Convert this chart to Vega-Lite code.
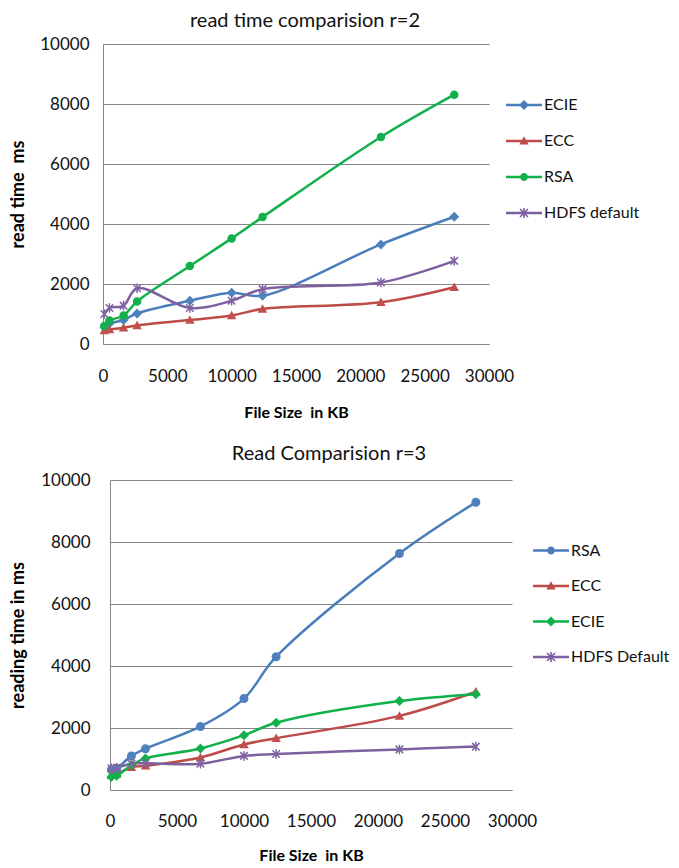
{
  "$schema": "https://vega.github.io/schema/vega-lite/v6.json",
  "background": "white",
  "padding": {"left": 8, "top": 11, "right": 0, "bottom": 0},
  "spacing": 24,
  "config": {
    "font": "Lato",
    "view": {"stroke": null},
    "axis": {
      "labelFont": "Lato", "labelFontSize": 17, "labelColor": "#111",
      "titleFont": "Lato", "titleFontWeight": "bold", "titleFontSize": 16, "titleColor": "#000",
      "domainColor": "#868686", "gridColor": "#868686", "gridWidth": 1, "ticks": false,
      "labelFlush": false, "labelOverlap": false, "format": "d"
    },
    "axisY": {"titleFontSize": 18},
    "legend": {
      "labelFont": "Lato", "labelFontSize": 16, "labelColor": "#111",
      "padding": 0, "rowPadding": 10, "labelOffset": 2, "title": null
    },
    "title": {"font": "Lato", "fontSize": 20, "fontWeight": "normal", "color": "#111"}
  },
  "datasets": {
    "empty": [],
    "r2": [
      {"series": "ECIE", "size": 100, "time": 560}, {"series": "ECIE", "size": 500, "time": 680},
      {"series": "ECIE", "size": 1600, "time": 800}, {"series": "ECIE", "size": 2650, "time": 1020},
      {"series": "ECIE", "size": 6750, "time": 1440}, {"series": "ECIE", "size": 10000, "time": 1710},
      {"series": "ECIE", "size": 12400, "time": 1610}, {"series": "ECIE", "size": 21600, "time": 3320},
      {"series": "ECIE", "size": 27300, "time": 4240},
      {"series": "ECC", "size": 100, "time": 450}, {"series": "ECC", "size": 500, "time": 480},
      {"series": "ECC", "size": 1600, "time": 540}, {"series": "ECC", "size": 2650, "time": 620},
      {"series": "ECC", "size": 6750, "time": 800}, {"series": "ECC", "size": 10000, "time": 950},
      {"series": "ECC", "size": 12400, "time": 1170}, {"series": "ECC", "size": 21600, "time": 1390},
      {"series": "ECC", "size": 27300, "time": 1890},
      {"series": "RSA", "size": 100, "time": 600}, {"series": "RSA", "size": 500, "time": 780},
      {"series": "RSA", "size": 1600, "time": 950}, {"series": "RSA", "size": 2650, "time": 1420},
      {"series": "RSA", "size": 6750, "time": 2600}, {"series": "RSA", "size": 10000, "time": 3520},
      {"series": "RSA", "size": 12400, "time": 4230}, {"series": "RSA", "size": 21600, "time": 6900},
      {"series": "RSA", "size": 27300, "time": 8310},
      {"series": "HDFS default", "size": 100, "time": 1000}, {"series": "HDFS default", "size": 500, "time": 1200},
      {"series": "HDFS default", "size": 1600, "time": 1280}, {"series": "HDFS default", "size": 2650, "time": 1860},
      {"series": "HDFS default", "size": 6750, "time": 1200}, {"series": "HDFS default", "size": 10000, "time": 1440},
      {"series": "HDFS default", "size": 12400, "time": 1830}, {"series": "HDFS default", "size": 21600, "time": 2050},
      {"series": "HDFS default", "size": 27300, "time": 2770}
    ],
    "r3": [
      {"series": "RSA", "size": 100, "time": 650}, {"series": "RSA", "size": 500, "time": 700},
      {"series": "RSA", "size": 1600, "time": 1100}, {"series": "RSA", "size": 2650, "time": 1330},
      {"series": "RSA", "size": 6750, "time": 2050}, {"series": "RSA", "size": 10000, "time": 2950},
      {"series": "RSA", "size": 12400, "time": 4300}, {"series": "RSA", "size": 21600, "time": 7630},
      {"series": "RSA", "size": 27300, "time": 9280},
      {"series": "ECC", "size": 100, "time": 480}, {"series": "ECC", "size": 500, "time": 520},
      {"series": "ECC", "size": 1600, "time": 730}, {"series": "ECC", "size": 2650, "time": 780},
      {"series": "ECC", "size": 6750, "time": 1050}, {"series": "ECC", "size": 10000, "time": 1470},
      {"series": "ECC", "size": 12400, "time": 1670}, {"series": "ECC", "size": 21600, "time": 2390},
      {"series": "ECC", "size": 27300, "time": 3170},
      {"series": "ECIE", "size": 100, "time": 420}, {"series": "ECIE", "size": 500, "time": 460},
      {"series": "ECIE", "size": 1600, "time": 800}, {"series": "ECIE", "size": 2650, "time": 1020},
      {"series": "ECIE", "size": 6750, "time": 1340}, {"series": "ECIE", "size": 10000, "time": 1770},
      {"series": "ECIE", "size": 12400, "time": 2170}, {"series": "ECIE", "size": 21600, "time": 2870},
      {"series": "ECIE", "size": 27300, "time": 3090},
      {"series": "HDFS Default", "size": 100, "time": 700}, {"series": "HDFS Default", "size": 500, "time": 720},
      {"series": "HDFS Default", "size": 1600, "time": 850}, {"series": "HDFS Default", "size": 2650, "time": 860},
      {"series": "HDFS Default", "size": 6750, "time": 850}, {"series": "HDFS Default", "size": 10000, "time": 1100},
      {"series": "HDFS Default", "size": 12400, "time": 1160}, {"series": "HDFS Default", "size": 21600, "time": 1310},
      {"series": "HDFS Default", "size": 27300, "time": 1400}
    ]
  },
  "vconcat": [
    {"spacing": 0, "hconcat": [
    {"width": 1, "height": 1, "data": {"name": "empty"}, "mark": "point", "encoding": {}},
    {
      "title": {"text": "read time comparision r=2", "frame": "group", "anchor": "middle", "dx": 9, "offset": 4},
      "width": 386, "height": 300,
      "data": {"name": "r2"},
      "encoding": {
        "x": {"field": "size", "type": "quantitative", "scale": {"domain": [0, 30000], "nice": false, "zero": false},
              "axis": {"title": "File Size \u00a0in KB", "values": [0, 5000, 10000, 15000, 20000, 25000, 30000], "grid": false, "labelPadding": 24, "titlePadding": 20}},
        "y": {"field": "time", "type": "quantitative", "scale": {"domain": [0, 10000], "nice": false},
              "axis": {"title": "read time \u00a0ms", "values": [0, 2000, 4000, 6000, 8000, 10000], "grid": true, "labelPadding": 14, "titlePadding": 12}}
      },
      "layer": [
        {
          "mark": {"type": "line", "interpolate": "catmull-rom", "strokeWidth": 2.5},
          "encoding": {
            "color": {"field": "series", "type": "nominal", "legend": null,
                      "scale": {"domain": ["ECIE", "ECC", "RSA", "HDFS default"], "range": ["#4A7EBB", "#BE4B48", "#10B04A", "#7D60A0"]}}
          }
        },
        {
          "mark": {"type": "point", "filled": true, "opacity": 1, "size": 100, "strokeWidth": 0},
          "encoding": {
            "color": {"field": "series", "type": "nominal", "legend": null,
                      "scale": {"domain": ["ECIE", "ECC", "RSA", "HDFS default"], "range": ["#4F81BD", "#C0504D", "#10B04A", "#8064A2"]}},
            "shape": {"field": "series", "type": "nominal", "legend": null,
                      "scale": {"domain": ["ECIE", "ECC", "RSA", "HDFS default"],
                                "range": ["M0,-1L1,0L0,1L-1,0Z",
                                          "M0,-0.95L0.95,0.75L-0.95,0.75Z",
                                          "M0.85,0A0.85,0.85,0,1,1,-0.85,0A0.85,0.85,0,1,1,0.85,0Z",
                                          "M-0.15,-0.95H0.15V0.95H-0.15ZM-0.644,-0.856L0.856,0.644L0.644,0.856L-0.856,-0.644ZM0.644,-0.856L0.856,-0.644L-0.644,0.856L-0.856,0.644Z"]}}
          }
        },
        {
          "transform": [{"filter": "false"}],
          "mark": {"type": "point", "filled": true, "opacity": 1, "size": 1296, "strokeWidth": 0},
          "encoding": {
            "color": {"field": "series", "type": "nominal",
                      "scale": {"domain": ["ECIE", "ECC", "RSA", "HDFS default"], "range": ["#4A7EBB", "#BE4B48", "#10B04A", "#7D60A0"]},
                      "legend": {"orient": "none", "legendX": 403, "legendY": 43, "symbolSize": 1296, "symbolStrokeWidth": 0}},
            "shape": {"field": "series", "type": "nominal",
                      "scale": {"domain": ["ECIE", "ECC", "RSA", "HDFS default"],
                                "range": ["M-1,-0.07H1V0.07H-1ZM0,-0.28L0.28,0L0,0.28L-0.28,0Z",
                                          "M-1,-0.07H1V0.07H-1ZM0,-0.26L0.26,0.2L-0.26,0.2Z",
                                          "M-1,-0.07H1V0.07H-1ZM0.22,0A0.22,0.22,0,1,1,-0.22,0A0.22,0.22,0,1,1,0.22,0Z",
                                          "M-1,-0.07H1V0.07H-1ZM-0.045,-0.28H0.045V0.28H-0.045ZM-0.188,-0.252L0.252,0.188L0.188,0.252L-0.252,-0.188ZM0.188,-0.252L0.252,-0.188L-0.188,0.252L-0.252,0.188Z"]},
                      "legend": {"orient": "none", "legendX": 403, "legendY": 43, "symbolSize": 1296, "symbolStrokeWidth": 0}}
          }
        }
      ],
      "resolve": {"scale": {"color": "independent", "shape": "independent"}}
    }]},
    {"spacing": 0, "hconcat": [
    {"width": 1, "height": 1, "data": {"name": "empty"}, "mark": "point", "encoding": {}},
    {
      "title": {"text": "Read Comparision r=3", "frame": "group", "anchor": "middle", "dx": 18, "offset": 7},
      "width": 402, "height": 310,
      "data": {"name": "r3"},
      "encoding": {
        "x": {"field": "size", "type": "quantitative", "scale": {"domain": [0, 30000], "nice": false, "zero": false},
              "axis": {"title": "File Size \u00a0in KB", "values": [0, 5000, 10000, 15000, 20000, 25000, 30000], "grid": false, "labelPadding": 23, "titlePadding": 18}},
        "y": {"field": "time", "type": "quantitative", "scale": {"domain": [0, 10000], "nice": false},
              "axis": {"title": "reading time in ms", "values": [0, 2000, 4000, 6000, 8000, 10000], "grid": true, "labelPadding": 20, "titlePadding": 13}}
      },
      "layer": [
        {
          "mark": {"type": "line", "interpolate": "catmull-rom", "strokeWidth": 2.5},
          "encoding": {
            "color": {"field": "series", "type": "nominal", "legend": null,
                      "scale": {"domain": ["RSA", "ECC", "ECIE", "HDFS Default"], "range": ["#4A7EBB", "#BE4B48", "#10B04A", "#7D60A0"]}}
          }
        },
        {
          "mark": {"type": "point", "filled": true, "opacity": 1, "size": 100, "strokeWidth": 0},
          "encoding": {
            "color": {"field": "series", "type": "nominal", "legend": null,
                      "scale": {"domain": ["RSA", "ECC", "ECIE", "HDFS Default"], "range": ["#4F81BD", "#C0504D", "#10B04A", "#8064A2"]}},
            "shape": {"field": "series", "type": "nominal", "legend": null,
                      "scale": {"domain": ["RSA", "ECC", "ECIE", "HDFS Default"],
                                "range": ["M0.9,0A0.9,0.9,0,1,1,-0.9,0A0.9,0.9,0,1,1,0.9,0Z",
                                          "M0,-0.95L0.95,0.75L-0.95,0.75Z",
                                          "M0,-1L1,0L0,1L-1,0Z",
                                          "M-0.15,-0.95H0.15V0.95H-0.15ZM-0.644,-0.856L0.856,0.644L0.644,0.856L-0.856,-0.644ZM0.644,-0.856L0.856,-0.644L-0.644,0.856L-0.856,0.644Z"]}}
          }
        },
        {
          "transform": [{"filter": "false"}],
          "mark": {"type": "point", "filled": true, "opacity": 1, "size": 1444, "strokeWidth": 0},
          "encoding": {
            "color": {"field": "series", "type": "nominal",
                      "scale": {"domain": ["RSA", "ECC", "ECIE", "HDFS Default"], "range": ["#4A7EBB", "#BE4B48", "#10B04A", "#7D60A0"]},
                      "legend": {"orient": "none", "legendX": 423, "legendY": 52.5, "symbolSize": 1296, "symbolStrokeWidth": 0, "rowPadding": 9.5}},
            "shape": {"field": "series", "type": "nominal",
                      "scale": {"domain": ["RSA", "ECC", "ECIE", "HDFS Default"],
                                "range": ["M-1,-0.07H1V0.07H-1ZM0.22,0A0.22,0.22,0,1,1,-0.22,0A0.22,0.22,0,1,1,0.22,0Z",
                                          "M-1,-0.07H1V0.07H-1ZM0,-0.26L0.26,0.2L-0.26,0.2Z",
                                          "M-1,-0.07H1V0.07H-1ZM0,-0.28L0.28,0L0,0.28L-0.28,0Z",
                                          "M-1,-0.07H1V0.07H-1ZM-0.045,-0.28H0.045V0.28H-0.045ZM-0.188,-0.252L0.252,0.188L0.188,0.252L-0.252,-0.188ZM0.188,-0.252L0.252,-0.188L-0.188,0.252L-0.252,0.188Z"]},
                      "legend": {"orient": "none", "legendX": 423, "legendY": 52.5, "symbolSize": 1296, "symbolStrokeWidth": 0, "rowPadding": 9.5}}
          }
        }
      ],
      "resolve": {"scale": {"color": "independent", "shape": "independent"}}
    }]}
  ]
}
